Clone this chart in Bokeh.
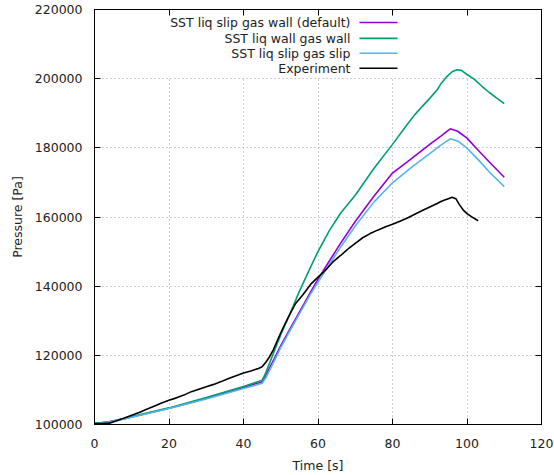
from bokeh.plotting import figure
from bokeh.models import Range1d, LinearAxis, SingleIntervalTicker, BasicTickFormatter, Label, BoxAnnotation
from bokeh.embed import file_html
from bokeh.resources import INLINE

# ---------------- data ----------------
t_default = [0, 4, 8, 12, 16, 20, 25, 30, 35, 40, 43, 45, 46, 48, 50, 52, 55, 58, 60, 63, 66, 70,
             75, 80, 85, 90, 93, 95.5, 97.5, 100, 103, 106, 110]
p_default = [100300, 100800, 101700, 102700, 103700, 104700, 106100, 107600, 109100, 110700, 111700,
             112300, 114200, 118500, 122800, 126700, 132500, 138300, 142000, 147200, 152300, 158700,
             166000, 172700, 176800, 181000, 183400, 185500, 184800, 182800, 179300, 175900, 171500]

t_wall = [0, 4, 8, 12, 16, 20, 25, 30, 35, 40, 43, 45, 46, 48, 50, 52, 55, 58, 60, 63, 66, 70, 75,
          80, 84, 86, 88, 90, 92, 93, 94.5, 96, 97.3, 98.5, 100, 102, 104, 106, 108, 110]
p_wall = [100300, 100800, 101700, 102800, 103800, 104800, 106300, 107800, 109400, 111000, 112100,
          112800, 115000, 120500, 126000, 130800, 138500, 145500, 150000, 156000, 161000, 166300,
          174000, 181000, 186800, 189600, 192000, 194300, 196800, 198500, 200500, 202000, 202600,
          202400, 201200, 199800, 197800, 196000, 194400, 192800]

t_slip = [0, 4, 8, 12, 16, 20, 25, 30, 35, 40, 43, 45, 46, 48, 50, 52, 55, 58, 60, 63, 66, 70, 75,
          80, 85, 90, 93, 95.5, 97.5, 100, 103, 106, 110]
p_slip = [100200, 100700, 101600, 102600, 103600, 104600, 106000, 107400, 108900, 110400, 111300,
          111900, 113500, 117800, 122200, 126200, 132000, 137700, 141200, 146200, 151200, 157400,
          164300, 169900, 174300, 178300, 180800, 182600, 182000, 179900, 176600, 173000, 168800]

t_exp = [0, 2, 4, 6, 8, 10, 12, 14, 16, 18, 20, 22, 24, 26, 28, 30, 32, 34, 36, 38, 40, 42, 44, 45,
         46, 47, 48, 50, 52, 54, 56, 58, 60, 62, 64, 66, 68, 70, 72, 74, 76, 78, 80, 82, 84, 86, 88,
         90, 92, 93, 94, 95, 96, 97, 98, 99, 100, 101.5, 103]
p_exp = [100300, 100300, 100400, 101100, 101900, 102700, 103500, 104400, 105300, 106200, 107000,
         107700, 108500, 109500, 110200, 110900, 111600, 112400, 113300, 114100, 114900, 115500,
         116200, 116700, 118000, 119600, 121600, 126500, 131000, 135000, 137600, 140500, 142600,
         144600, 147000, 148800, 150700, 152400, 154000, 155200, 156200, 157100, 157900, 158800,
         159700, 160800, 161900, 162900, 163900, 164500, 164900, 165300, 165700, 165300, 163500,
         162000, 161000, 159900, 158900]

series_names = ["SST liq slip gas wall (default)", "SST liq wall gas wall", "SST liq slip gas slip", "Experiment"]
series_colors = ["#9400d3", "#009e73", "#56b4e9", "#000000"]
x_ticks_interval = 20
y_ticks_interval = 20000

FONT = "DejaVu Sans"
FS = "12.5px"

# ---------------- figure ----------------
x0, x1, y0, y1 = 0, 120, 100000, 220000
p = figure(width=554, height=475, output_backend="svg", toolbar_location=None,
           x_range=Range1d(x0, x1), y_range=Range1d(y0, y1),
           min_border_left=94, min_border_right=13, min_border_top=9, min_border_bottom=49,
           x_axis_label="Time [s]", y_axis_label="Pressure [Pa]")
# no fills: the page is white, and fills would hide the underlay (grid) layer
p.background_fill_color = None
p.border_fill_color = None
p.outline_line_color = "black"
p.outline_line_width = 1

for ax in (p.xaxis[0], p.yaxis[0]):
    ax.major_tick_in = 6
    ax.major_tick_out = 0
    ax.minor_tick_line_color = None
    ax.axis_line_color = "black"
    ax.major_tick_line_color = "black"
    ax.major_label_text_font = FONT
    ax.major_label_text_font_size = FS
    ax.major_label_text_color = "#222222"
    ax.axis_label_text_font = FONT
    ax.axis_label_text_font_size = FS
    ax.axis_label_text_font_style = "normal"
    ax.axis_label_text_color = "#222222"

p.xaxis[0].ticker = SingleIntervalTicker(interval=x_ticks_interval)
p.yaxis[0].ticker = SingleIntervalTicker(interval=y_ticks_interval)
p.yaxis[0].formatter = BasicTickFormatter(use_scientific=False)
p.xaxis[0].major_label_standoff = 10
p.xaxis[0].axis_label_standoff = 7
p.yaxis[0].major_label_standoff = 8
p.yaxis[0].axis_label_standoff = 7

# mirrored ticks on top/right (no labels drawn)
for loc, interval in (("above", x_ticks_interval), ("right", y_ticks_interval)):
    ax = LinearAxis(ticker=SingleIntervalTicker(interval=interval))
    ax.major_tick_in = 6
    ax.major_tick_out = 0
    ax.minor_tick_line_color = None
    ax.major_label_text_font_size = "1px"
    ax.major_label_text_color = None
    ax.major_label_standoff = 0
    ax.axis_line_color = "black"
    ax.major_tick_line_color = "black"
    p.add_layout(ax, loc)

p.xgrid.ticker = SingleIntervalTicker(interval=x_ticks_interval)
p.ygrid.ticker = SingleIntervalTicker(interval=y_ticks_interval)
for g in (p.xgrid[0], p.ygrid[0]):
    g.grid_line_color = "#a0a0a0"
    g.grid_line_alpha = 1.0
    g.grid_line_dash = "1 3"
    g.grid_line_width = 1

# ---------------- helpers for frame-relative placement ----------------
def fx(f):
    return x0 + f * (x1 - x0)

def fy(f):
    return y0 + f * (y1 - y0)

# opaque key area: hides the grid in the top band, above the top grid line
p.add_layout(BoxAnnotation(left=fx(0.0), right=fx(1.0), bottom=fy(0.838), top=fy(1.0),
                           fill_color="white", fill_alpha=1.0, line_color=None, level="underlay"))

# ---------------- lines ----------------
all_t = [t_default, t_wall, t_slip, t_exp]
all_p = [p_default, p_wall, p_slip, p_exp]
for t, pr, c in zip(all_t, all_p, series_colors):
    p.line(t, pr, line_color=c, line_width=1.6)

# ---------------- gnuplot-style legend (text right, sample line on right) ----------------
row_fracs = [0.9688, 0.9305, 0.8945, 0.8585]
text_right = 0.5727
samp_l, samp_r = 0.5928, 0.6779
for name, c, rf in zip(series_names, series_colors, row_fracs):
    p.add_layout(Label(x=fx(text_right), y=fy(rf), text=name, text_align="right",
                       text_baseline="middle", text_font=FONT, text_font_size=FS,
                       text_color="#222222"))
    p.segment(x0=[fx(samp_l)], y0=[fy(rf)], x1=[fx(samp_r)], y1=[fy(rf)],
              line_color=c, line_width=1.6)

open("out.html", "w").write(file_html(p, INLINE))
